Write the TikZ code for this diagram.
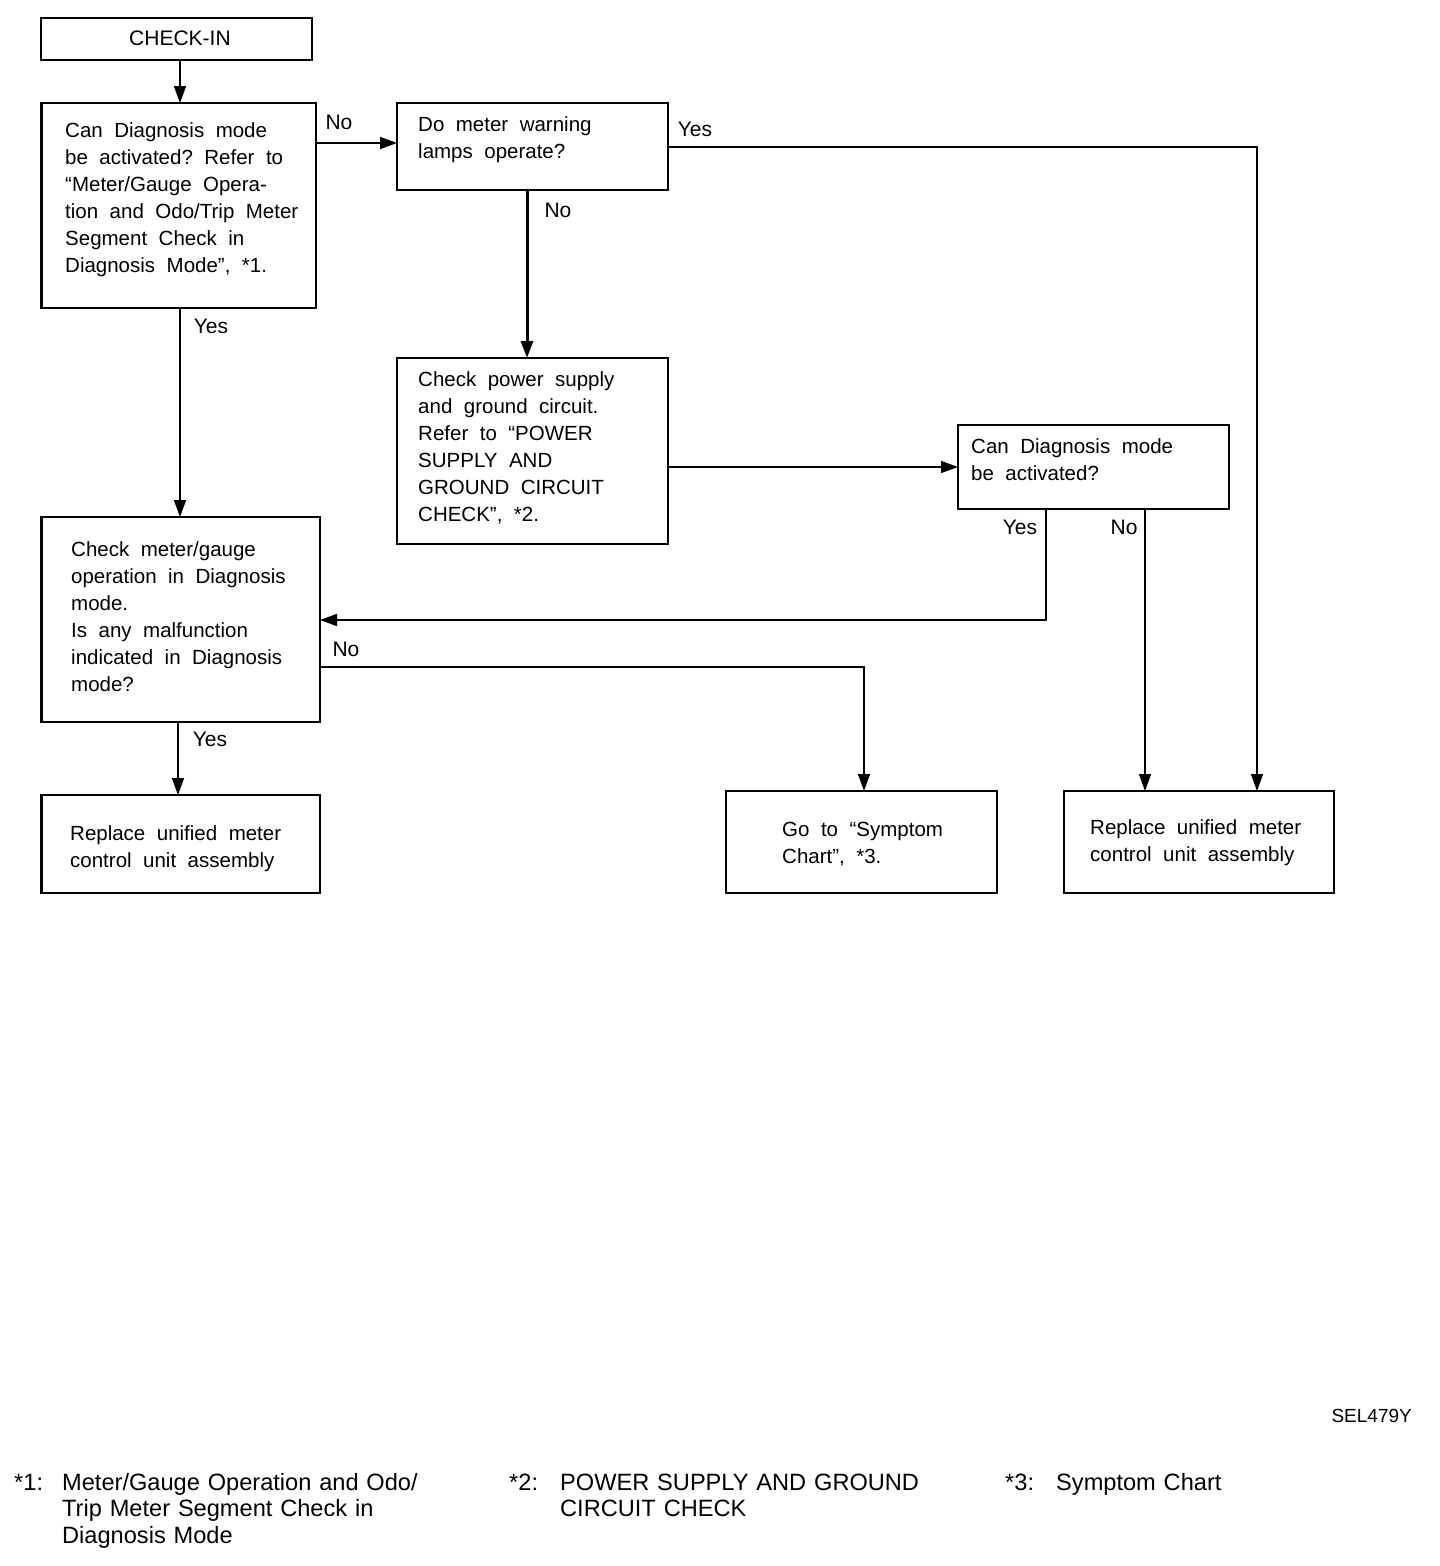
\documentclass[tikz,border=0pt]{standalone}
\usepackage{fontspec}
\setmainfont{Liberation Sans}
\newfontfamily\notefont{Liberation Sans}
\usetikzlibrary{arrows.meta,calc}
\frenchspacing
\newcommand\myboxfont{\fontsize{20.5}{27}\selectfont}
\newcommand\mywordspace{\spaceskip=11.5pt plus 1pt\relax\xspaceskip=11.5pt plus 1pt\relax}
\begin{document}
\begin{tikzpicture}[x=1pt,y=-1pt,
  box/.style={draw,line width=1.8pt,inner sep=0pt,outer sep=0pt},
  txt/.style={anchor=base west,inner sep=0pt,text width=330pt,align=left,font=\myboxfont,execute at begin node=\mywordspace},
  lbl/.style={inner sep=0pt,font=\fontsize{21}{27}\selectfont},
  note/.style={anchor=base west,inner sep=0pt,text width=430pt,align=left,font=\notefont\fontsize{23.6}{26.5}\selectfont},
  conn/.style={line width=1.6pt,-{Triangle[length=17pt,width=12pt]}},
  plain/.style={line width=1.6pt}]
\useasboundingbox (0,0) rectangle (1440,1566);
\fill[white] (0,0) rectangle (1440,1566);

% boxes
\node[box,minimum width=271pt,minimum height=42pt] (chk) at (176.5,39) {};
\node[box,minimum width=275pt,minimum height=205pt] (a) at (178.5,205.5) {};
\node[box,minimum width=271pt,minimum height=87pt] (b) at (532.5,146.5) {};
\node[box,minimum width=271pt,minimum height=186pt] (c) at (532.5,451) {};
\node[box,minimum width=271pt,minimum height=84pt] (d) at (1093.5,467) {};
\node[box,minimum width=279pt,minimum height=205pt] (e) at (180.5,619.5) {};
\node[box,minimum width=279pt,minimum height=98pt] (f) at (180.5,844) {};
\node[box,minimum width=271pt,minimum height=102pt] (g) at (861.5,842) {};
\node[box,minimum width=270pt,minimum height=102pt] (h) at (1199,842) {};
% thicker left edges
\draw[line width=3pt] (a.south west) -- (a.north west);
\draw[line width=3pt] (e.south west) -- (e.north west);
\draw[line width=3pt] (f.south west) -- (f.north west);

% texts
\node[lbl] (tchk) at (180,38) {CHECK-IN};
\node[txt] (ta) at (65,137) {Can Diagnosis mode\\be activated? Refer to\\“Meter/Gauge Opera-\\tion and Odo/Trip Meter\\Segment Check in\\Diagnosis Mode”, *1.};
\node[txt] (tb) at (418,131) {Do meter warning\\lamps operate?};
\node[txt] (tc) at (418,386) {Check power supply\\and ground circuit.\\Refer to “POWER\\SUPPLY AND\\GROUND CIRCUIT\\CHECK”, *2.};
\node[txt] (td) at (971,453) {Can Diagnosis mode\\be activated?};
\node[txt] (te) at (71,556) {Check meter/gauge\\operation in Diagnosis\\mode.\\Is any malfunction\\indicated in Diagnosis\\mode?};
\node[txt] (tf) at (70,840) {Replace unified meter\\control unit assembly};
\node[txt] (tg) at (782,836) {Go to “Symptom\\Chart”, *3.};
\node[txt] (th) at (1090,834) {Replace unified meter\\control unit assembly};

% connectors
\draw[conn] (chk.south -| 180,0) -- (a.north -| 180,0);
\draw[conn] (a.east |- 0,143) -- (b.west |- 0,143);
\draw[conn] (b.east |- 0,147) -| (h.north -| 1257,0);
\draw[conn,line width=3pt] (b.south -| 527,0) -- (c.north -| 527,0);
\draw[conn] (a.south -| 180,0) -- (e.north -| 180,0);
\draw[conn] (c.east |- d.west) -- (d.west);
\draw[conn] (d.south -| 1046,0) |- (e.east |- 0,620);
\draw[conn] (d.south -| 1145,0) -- (h.north -| 1145,0);
\draw[conn] (e.east |- 0,667) -| (g.north -| 864,0);
\draw[conn] (e.south -| 178,0) -- (f.north -| 178,0);

% labels
\node[lbl] (l1) at (339,122) {No};
\node[lbl] (l2) at (695,129) {Yes};
\node[lbl] (l3) at (558,210) {No};
\node[lbl] (l4) at (211,326) {Yes};
\node[lbl] (l5) at (1020,527) {Yes};
\node[lbl] (l6) at (1124,527) {No};
\node[lbl] (l7) at (346,649) {No};
\node[lbl] (l8) at (210,739) {Yes};

% reference code and footnotes
\node[anchor=base east,inner sep=0pt,font=\notefont\fontsize{19}{22}\selectfont] (sel) at (1412,1422) {SEL479Y};
\node[note] (n1k) at (14,1490) {*1:};
\node[note] (n1) at (62,1490) {Meter/Gauge Operation and Odo/\\Trip Meter Segment Check in\\Diagnosis Mode};
\node[note] (n2k) at (509,1490) {*2:};
\node[note] (n2) at (560,1490) {POWER SUPPLY AND GROUND\\CIRCUIT CHECK};
\node[note] (n3k) at (1005,1490) {*3:};
\node[note] (n3) at (1056,1490) {Symptom Chart};
\end{tikzpicture}
\end{document}
